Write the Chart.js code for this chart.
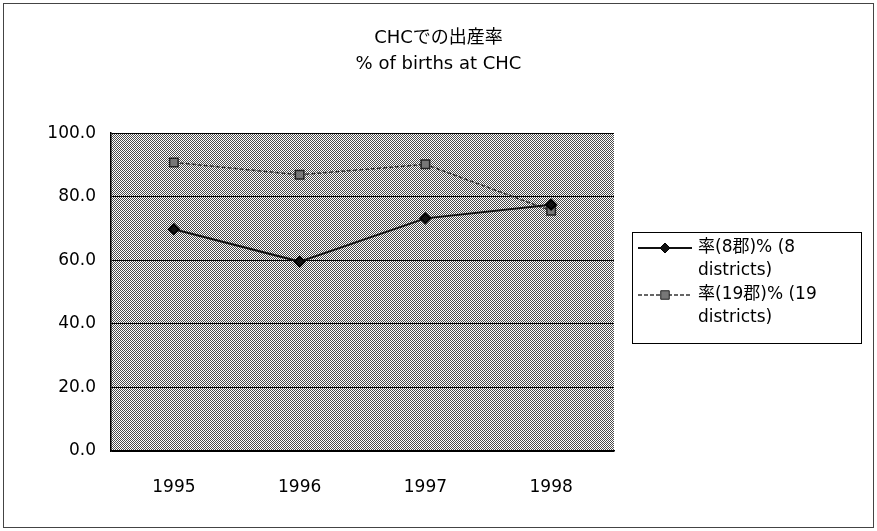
<!DOCTYPE html>
<html>
<head>
<meta charset="utf-8">
<script src="https://cdn.jsdelivr.net/npm/chart.js@4"></script>
<style>
  html, body { margin: 0; background: #fff; }
  #wrap { width: 877px; height: 531px; position: relative; }
</style>
</head>
<body>
<div id="wrap"><canvas id="chart"></canvas></div>
<script>
// Data
const years = ['1995', '1996', '1997', '1998'];
const rate8 = [69.8, 59.6, 73.2, 77.5];
const rate19 = [90.8, 86.9, 90.2, 75.6];
const seriesLabels = [['率(8郡)% (8', 'districts)'], ['率(19郡)% (19', 'districts)']];
const titleLines = ['CHCでの出産率', '% of births at CHC'];
const yMin = 0, yMax = 100, yStep = 20;

const FONT = "'DejaVu Sans', 'Noto Sans CJK JP', sans-serif";

// Dithered grey background of the plot area
function makePattern(ctx) {
    const c = document.createElement('canvas');
    c.width = 2; c.height = 2;
    const p = c.getContext('2d');
    p.fillStyle = '#ffffff';
    p.fillRect(0, 0, 2, 2);
    p.fillStyle = '#4a4a4a';
    p.fillRect(0, 0, 1, 1);
    p.fillRect(1, 1, 1, 1);
    return ctx.createPattern(c, 'repeat');
}

const plotBackground = {
    id: 'plotBackground',
    beforeDraw(chart) {
        const { ctx, chartArea: a } = chart;
        ctx.save();
        ctx.fillStyle = makePattern(ctx);
        ctx.fillRect(a.left, a.top, a.right - a.left, a.bottom - a.top);
        ctx.restore();
    },
    afterDraw(chart) {
        // outer frame
        const ctx = chart.ctx;
        ctx.save();
        ctx.strokeStyle = '#444';
        ctx.lineWidth = 1;
        ctx.strokeRect(3.5, 3.5, 870, 524);
        ctx.restore();
    }
};

// Legend box with wrapped labels, drawn to the right of the plot
const wrappedLegend = {
    id: 'wrappedLegend',
    afterDraw(chart) {
        const ctx = chart.ctx;
        const bx = 632.5, by = 232.5, bw = 229, bh = 111;
        ctx.save();
        ctx.fillStyle = '#fff';
        ctx.fillRect(bx, by, bw, bh);
        ctx.strokeStyle = '#000';
        ctx.lineWidth = 1;
        ctx.strokeRect(bx, by, bw, bh);
        chart.data.datasets.forEach((ds, i) => {
            const y0 = 248 + i * 47;
            ctx.strokeStyle = ds.borderColor;
            ctx.lineWidth = ds.borderWidth;
            ctx.setLineDash(ds.borderDash || []);
            ctx.beginPath();
            ctx.moveTo(638, y0);
            ctx.lineTo(692, y0);
            ctx.stroke();
            ctx.setLineDash([]);
            ctx.fillStyle = ds.pointBackgroundColor;
            ctx.strokeStyle = ds.pointBorderColor;
            ctx.lineWidth = 1;
            Chart.helpers.drawPoint(ctx, {
                pointStyle: ds.pointStyle,
                radius: ds.pointRadius,
                borderWidth: 1
            }, 665, y0);
            ctx.fillStyle = '#000';
            ctx.font = '17px ' + FONT;
            ctx.textBaseline = 'middle';
            ctx.textAlign = 'left';
            seriesLabels[i].forEach((t, k) => ctx.fillText(t, 698, y0 + k * 23));
        });
        ctx.restore();
    }
};

const ctx = document.getElementById('chart').getContext('2d');
new Chart(ctx, {
    type: 'line',
    data: {
        labels: years,
        datasets: [{
            label: seriesLabels[0].join(' '),
            data: rate8,
            borderColor: '#111',
            borderWidth: 2,
            pointStyle: 'rectRot',
            pointRadius: 5,
            pointBackgroundColor: '#111',
            pointBorderColor: '#000',
            tension: 0
        }, {
            label: seriesLabels[1].join(' '),
            data: rate19,
            borderColor: '#333',
            borderWidth: 1.5,
            borderDash: [4, 2],
            pointStyle: 'rect',
            pointRadius: 6,
            pointBackgroundColor: '#777',
            pointBorderColor: '#222',
            tension: 0
        }]
    },
    options: {
        responsive: true,
        maintainAspectRatio: false,
        animation: false,
        layout: { padding: { left: 10, right: 10, top: 0, bottom: 0 } },
        plugins: {
            legend: { display: false },
            tooltip: { enabled: false },
            title: {
                display: true,
                text: titleLines,
                color: '#000',
                font: { family: FONT, size: 18, weight: 'normal', lineHeight: 1.45 },
                padding: { top: 25, bottom: 56 }
            }
        },
        scales: {
            x: {
                offset: true,
                grid: { display: false, offset: true },
                border: { display: true, color: '#000', width: 1.5 },
                ticks: { color: '#000', font: { family: FONT, size: 17 }, padding: 18 },
                afterFit: (s) => { s.height = 80; }
            },
            y: {
                min: yMin,
                max: yMax,
                grid: { color: '#000', lineWidth: 1, drawTicks: false },
                border: { display: true, color: '#000', width: 1.5 },
                ticks: {
                    stepSize: yStep,
                    color: '#000',
                    padding: 15,
                    font: { family: FONT, size: 17 },
                    callback: (v) => v.toFixed(1)
                },
                afterFit: (s) => { s.width = 101; }
            },
            spacer: {
                position: 'right',
                display: true,
                grid: { display: false },
                border: { display: false },
                ticks: { display: false },
                afterFit: (s) => { s.width = 253; }
            }
        }
    },
    plugins: [plotBackground, wrappedLegend]
});
</script>
</body>
</html>
